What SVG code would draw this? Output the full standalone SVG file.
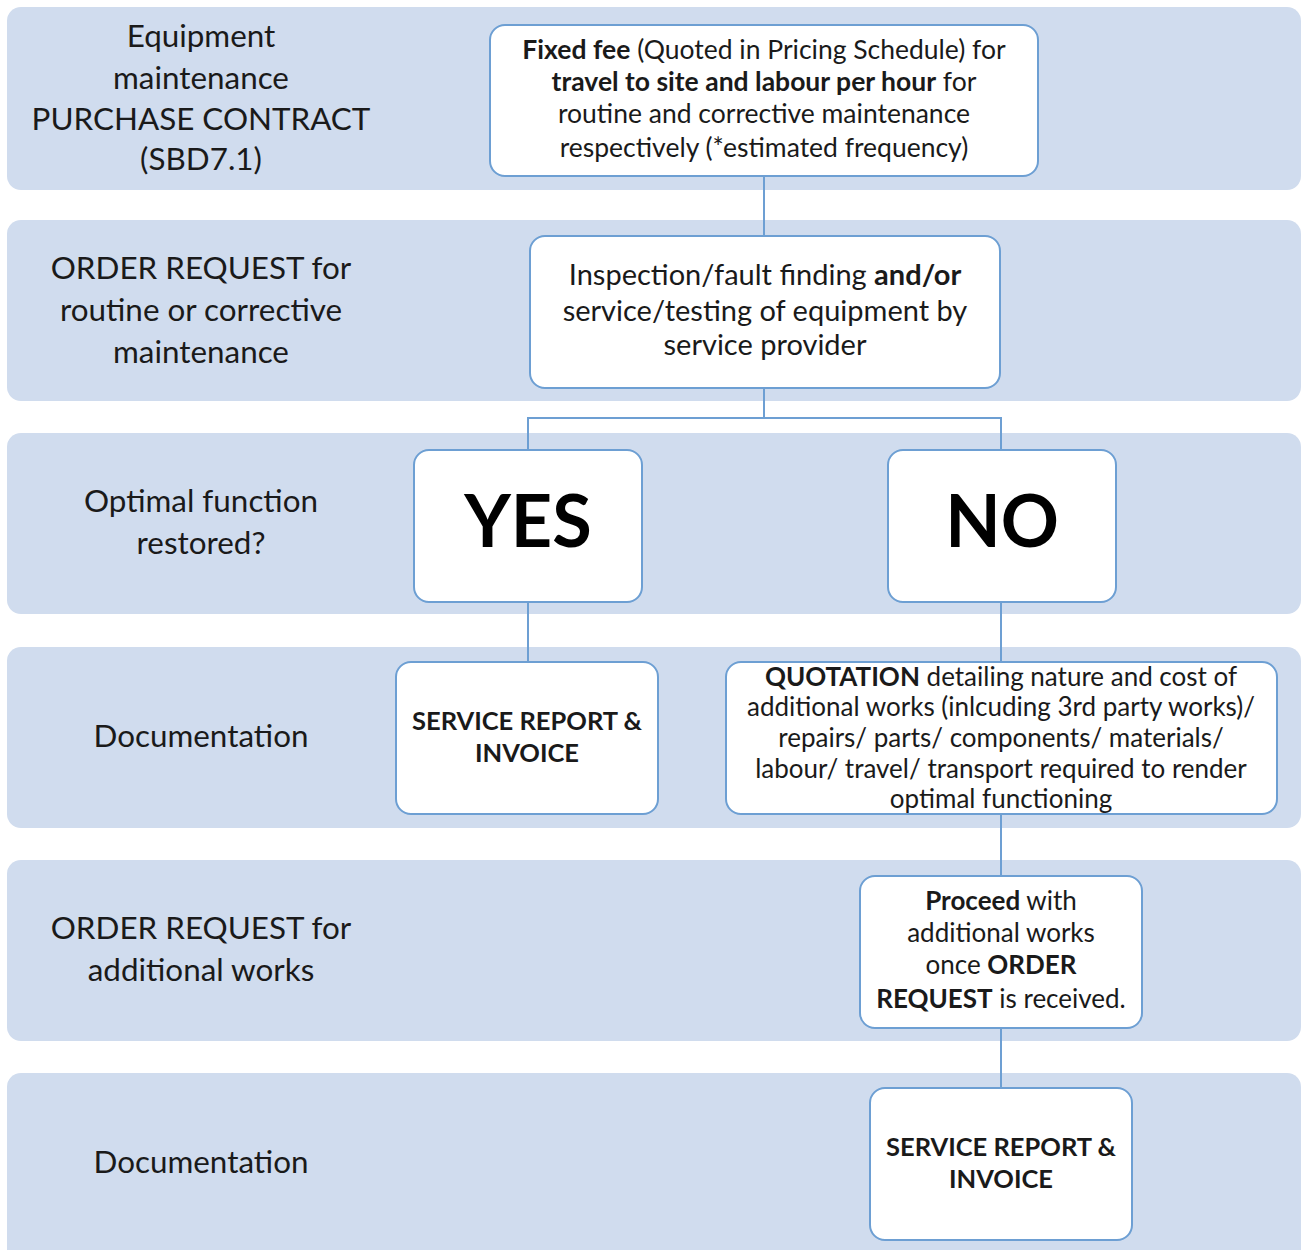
<svg xmlns="http://www.w3.org/2000/svg" width="1306" height="1250" viewBox="0 0 1306 1250">
<style>
.band{fill:#d0dcee;}
.box{fill:#ffffff;stroke:#6d9fd3;stroke-width:2;}
.lbl{font-family:Lato,"Liberation Sans",sans-serif;font-size:31.4px;fill:#1a1a1a;text-anchor:middle;}
.t{font-family:Lato,"Liberation Sans",sans-serif;font-size:26.5px;fill:#1a1a1a;text-anchor:middle;}
.t2{font-size:29px;}
.tq{font-size:26px;}
.ts{font-size:25.5px;}
.b{font-weight:bold;}
.big{font-family:Lato,"Liberation Sans",sans-serif;font-size:72px;font-weight:bold;fill:#000;text-anchor:middle;}
.con{stroke:#6d9fd3;stroke-width:2;fill:none;}
</style>
<rect width="1306" height="1250" fill="#ffffff"/>
<g id="bands">
<rect class="band" x="7" y="7" width="1294" height="183" rx="14"/>
<rect class="band" x="7" y="220" width="1294" height="181" rx="14"/>
<rect class="band" x="7" y="433" width="1294" height="181" rx="14"/>
<rect class="band" x="7" y="647" width="1294" height="181" rx="14"/>
<rect class="band" x="7" y="860" width="1294" height="181" rx="14"/>
<rect class="band" x="7" y="1073" width="1294" height="190" rx="14"/>
</g>
<g id="labels">
<text class="lbl" x="201" y="47">Equipment</text>
<text class="lbl" x="201" y="89">maintenance</text>
<text class="lbl" x="201" y="130">PURCHASE CONTRACT</text>
<text class="lbl" x="201" y="170">(SBD7.1)</text>
<text class="lbl" x="201" y="279">ORDER REQUEST for</text>
<text class="lbl" x="201" y="321">routine or corrective</text>
<text class="lbl" x="201" y="363">maintenance</text>
<text class="lbl" x="201" y="512">Optimal function</text>
<text class="lbl" x="201" y="554">restored?</text>
<text class="lbl" x="201" y="747">Documentation</text>
<text class="lbl" x="201" y="939">ORDER REQUEST for</text>
<text class="lbl" x="201" y="981">additional works</text>
<text class="lbl" x="201" y="1173">Documentation</text>
</g>
<g id="connectors">
<line class="con" x1="764" y1="176" x2="764" y2="236"/>
<polyline class="con" points="764,388 764,418"/>
<polyline class="con" points="528,450 528,418 1001,418 1001,450"/>
<line class="con" x1="528" y1="602" x2="528" y2="662"/>
<line class="con" x1="1001" y1="602" x2="1001" y2="662"/>
<line class="con" x1="1001" y1="814" x2="1001" y2="876"/>
<line class="con" x1="1001" y1="1028" x2="1001" y2="1088"/>
</g>
<g id="n-fee">
<rect class="box" x="490" y="25" width="548" height="151" rx="15"/>
<text class="t" x="764" y="59"><tspan class="b">Fixed fee</tspan> (Quoted in Pricing Schedule) for</text>
<text class="t" x="764" y="91"><tspan class="b">travel to site and labour per hour</tspan> for</text>
<text class="t" x="764" y="123">routine and corrective maintenance</text>
<text class="t" x="764" y="157">respectively (*estimated frequency)</text>
</g>
<g id="n-inspect">
<rect class="box" x="530" y="236" width="470" height="152" rx="15"/>
<text class="t t2" x="765" y="285">Inspection/fault finding <tspan class="b">and/or</tspan></text>
<text class="t t2" x="765" y="321">service/testing of equipment by</text>
<text class="t t2" x="765" y="355">service provider</text>
</g>
<g id="n-yes">
<rect class="box" x="414" y="450" width="228" height="152" rx="15"/>
<text class="big" x="528" y="547">YES</text>
</g>
<g id="n-no">
<rect class="box" x="888" y="450" width="228" height="152" rx="15"/>
<text class="big" x="1002" y="547">NO</text>
</g>
<g id="n-report1">
<rect class="box" x="396" y="662" width="262" height="152" rx="15"/>
<text class="t ts b" x="527" y="730">SERVICE REPORT &amp;</text>
<text class="t ts b" x="527" y="762">INVOICE</text>
</g>
<g id="n-quote">
<rect class="box" x="726" y="662" width="551" height="152" rx="15"/>
<text class="t tq" x="1001" y="686"><tspan class="b">QUOTATION</tspan> detailing nature and cost of</text>
<text class="t tq" x="1001" y="716">additional works (inlcuding 3rd party works)/</text>
<text class="t tq" x="1001" y="747">repairs/ parts/ components/ materials/</text>
<text class="t tq" x="1001" y="778">labour/ travel/ transport required to render</text>
<text class="t tq" x="1001" y="808">optimal functioning</text>
</g>
<g id="n-proceed">
<rect class="box" x="860" y="876" width="282" height="152" rx="15"/>
<text class="t tq" x="1001" y="910"><tspan class="b">Proceed</tspan> with</text>
<text class="t tq" x="1001" y="942">additional works</text>
<text class="t tq" x="1001" y="974">once <tspan class="b">ORDER</tspan></text>
<text class="t tq" x="1001" y="1008"><tspan class="b">REQUEST</tspan> is received.</text>
</g>
<g id="n-report2">
<rect class="box" x="870" y="1088" width="262" height="152" rx="15"/>
<text class="t ts b" x="1001" y="1156">SERVICE REPORT &amp;</text>
<text class="t ts b" x="1001" y="1188">INVOICE</text>
</g>
</svg>
